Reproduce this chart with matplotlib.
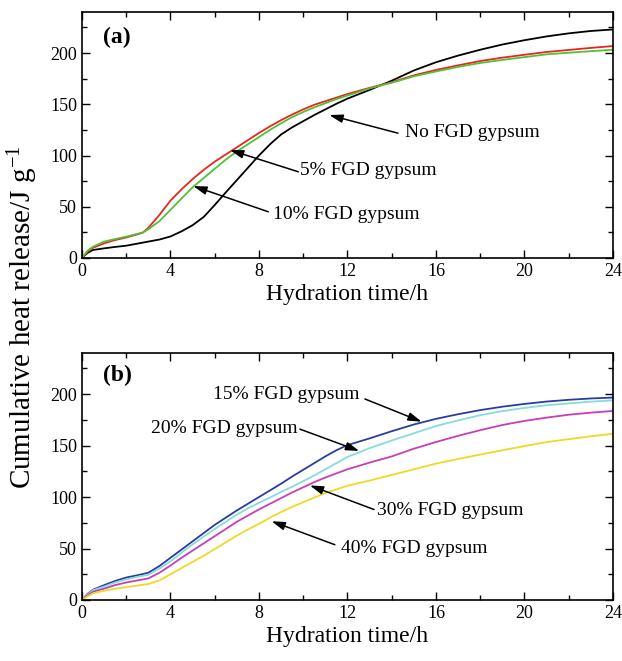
import numpy as np
import matplotlib
matplotlib.use("Agg")
import matplotlib.pyplot as plt
from matplotlib.ticker import MultipleLocator

# hydration time (h)
t = [0, 0.25, 0.5, 1, 1.5, 2, 2.5, 2.75, 3, 3.5, 4, 4.5, 5, 5.5, 6, 6.5, 7, 7.5, 8, 8.5,
     9, 9.5, 10, 10.5, 11, 11.5, 12, 13, 14, 15, 16, 17, 18, 19, 20, 21, 22, 23, 24]

# panel (a): cumulative heat release, J/g
no_fgd = [0, 5, 7.8, 9.4, 10.8, 12, 14, 15, 16, 18, 21, 26, 32, 40, 51.7, 64, 76, 88, 100, 111,
          120.5, 127.5, 133.5, 139.5, 145, 150.5, 155.5, 164, 173, 183, 191, 197.5, 203.2, 208.3,
          212.5, 216.2, 219.2, 221.5, 223]
fgd_5 = [0, 6, 10, 14.3, 17.5, 20, 23, 24.7, 29.5, 42, 56, 67, 77, 86, 94, 101, 108, 115, 122, 128.5,
         134.5, 140, 145, 149.5, 153, 156.5, 160, 166, 171.5, 178.2, 183.5, 188, 192.2, 195.5,
         198.3, 201, 203, 205, 206.8]
fgd_10 = [0, 7, 11, 16, 18.5, 20.8, 23.5, 25, 28, 36, 47, 58, 69, 78, 87, 96, 104, 111, 118, 125,
          131.5, 137.5, 142.5, 147, 151, 155, 158.5, 165.5, 171, 177.3, 182, 186.5, 190.3, 193.3,
          196, 198.7, 200.3, 201.8, 203.2]

# panel (b)
fgd_15 = [0, 6, 10, 14.4, 18.5, 21.8, 24, 25.2, 26.5, 33, 41, 49, 57, 65, 73, 80, 87, 93.5, 100, 106.5,
          113, 120, 126.5, 133, 139.5, 145.5, 150.5, 157, 164, 170.5, 176, 180.5, 184.5, 187.8,
          190.5, 192.8, 194.5, 195.8, 196.7]
fgd_20 = [0, 5.5, 9.5, 13, 17, 20, 22.5, 23.5, 24.5, 30.5, 37.5, 46, 54, 61.5, 69, 76, 83, 89, 94.5, 99.5,
          105, 110, 115.5, 121, 127, 133, 139, 147.5, 155, 162, 169, 174.5, 179.5, 183.5,
          186.6, 189.2, 191, 192.7, 194]
fgd_30 = [0, 4.5, 8, 11, 14.5, 17, 19, 20, 21, 26.5, 33.5, 41, 48, 55, 62, 69, 76, 82, 88, 93.5,
          99, 104.5, 109.5, 114.5, 119, 123, 127, 133.5, 139.5, 147, 153.5, 159.5, 165, 170,
          174, 177.2, 180, 182, 183.7]
fgd_40 = [0, 3.5, 6.5, 9, 11, 12.5, 14, 14.8, 15.5, 19, 25, 31, 37, 43, 49.5, 56, 62.5, 68.5, 74, 80,
          85.5, 90.5, 95, 99.5, 104, 107.5, 111, 116, 121.5, 127, 132.5, 137, 141.3, 145.5,
          149.5, 153.4, 156.3, 159, 161.5]

plt.rcParams['font.family'] = ['Liberation Serif', 'DejaVu Serif']
plt.rcParams['mathtext.fontset'] = 'custom'
plt.rcParams['mathtext.rm'] = 'Liberation Serif'
plt.rcParams['mathtext.it'] = 'Liberation Serif:italic'

fig = plt.figure(figsize=(6.22, 6.61), dpi=100)
ax1 = fig.add_axes([0.1318, 0.6097, 0.8537, 0.3721])
ax2 = fig.add_axes([0.1318, 0.0923, 0.8537, 0.3737])

ax1.plot(t, no_fgd, color='black', lw=1.3)
ax1.plot(t, fgd_5, color='#e8251f', lw=1.3)
ax1.plot(t, fgd_10, color='#52c034', lw=1.3)

ax2.plot(t, fgd_15, color='#2a3ca3', lw=1.3)
ax2.plot(t, fgd_20, color='#86dcd8', lw=1.3)
ax2.plot(t, fgd_30, color='#c83db8', lw=1.3)
ax2.plot(t, fgd_40, color='#efd925', lw=1.3)

for ax in (ax1, ax2):
    ax.set_xlim(0, 24)
    ax.set_ylim(0, 240)
    ax.xaxis.set_major_locator(MultipleLocator(4))
    ax.xaxis.set_minor_locator(MultipleLocator(2))
    ax.yaxis.set_major_locator(MultipleLocator(50))
    ax.yaxis.set_minor_locator(MultipleLocator(25))
    ax.tick_params(which='both', direction='in', top=True, right=True, labelsize=13, width=1)
    ax.tick_params(which='major', length=6)
    ax.tick_params(which='minor', length=3.5)
    for s in ax.spines.values():
        s.set_linewidth(1.2)
    ax.set_xlabel('Hydration time/h', fontsize=17, labelpad=3)

arr = dict(arrowstyle='-|>,head_length=0.8,head_width=0.25', color='black', lw=1.1, shrinkA=0, shrinkB=0)
fs = 14

# panel (a) labels
ax1.text(0.039, 0.896, '(a)', transform=ax1.transAxes, fontsize=17, fontweight='bold', va='center')
ax1.annotate('', xy=(11.18, 139.4), xytext=(14.28, 121.8), arrowprops=arr)
ax1.text(14.6, 122.5, 'No FGD gypsum', fontsize=fs, va='center')
ax1.annotate('', xy=(6.69, 105.3), xytext=(9.78, 84.1), arrowprops=arr)
ax1.text(9.85, 85.8, '5% FGD gypsum', fontsize=fs, va='center')
ax1.annotate('', xy=(5.03, 70.2), xytext=(8.42, 45.1), arrowprops=arr)
ax1.text(8.63, 42.9, '10% FGD gypsum', fontsize=fs, va='center')

# panel (b) labels
ax2.text(0.039, 0.907, '(b)', transform=ax2.transAxes, fontsize=17, fontweight='bold', va='center')
ax2.annotate('', xy=(15.35, 173.2), xytext=(12.79, 195.3), arrowprops=arr)
ax2.text(5.92, 200, '15% FGD gypsum', fontsize=fs, va='center')
ax2.annotate('', xy=(12.53, 144.8), xytext=(9.85, 166), arrowprops=arr)
ax2.text(3.1, 166.7, '20% FGD gypsum', fontsize=fs, va='center')
ax2.annotate('', xy=(10.3, 111.3), xytext=(13.2, 87.9), arrowprops=arr)
ax2.text(13.35, 86.9, '30% FGD gypsum', fontsize=fs, va='center')
ax2.annotate('', xy=(8.57, 76.5), xytext=(11.43, 53.7), arrowprops=arr)
ax2.text(11.69, 50.5, '40% FGD gypsum', fontsize=fs, va='center')

fig.text(0.036, 0.52, 'Cumulative heat release/J g$^{-1}$', rotation=90, fontsize=21,
         ha='center', va='center')

fig.savefig('out.png', dpi=100)
